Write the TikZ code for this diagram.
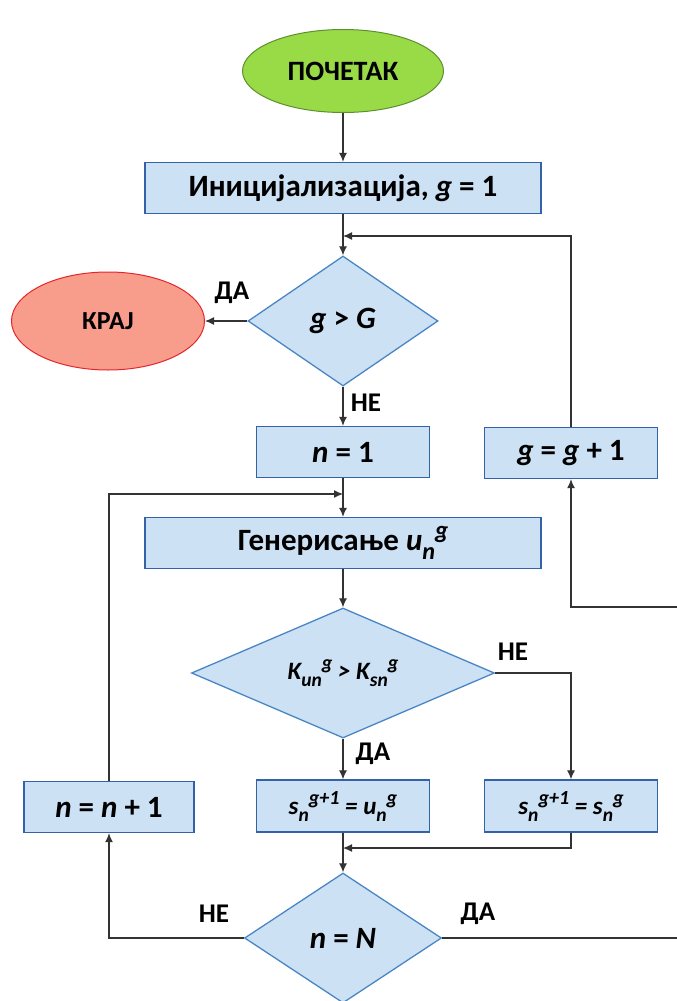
\documentclass[tikz,border=0pt]{standalone}
\usepackage{fontspec}
\setmainfont{Carlito}
\usetikzlibrary{arrows.meta,shapes.geometric}
\definecolor{startfill}{HTML}{99DB47}
\definecolor{startline}{HTML}{5E8F2E}
\definecolor{stopfill}{HTML}{F89C8C}
\definecolor{stopline}{HTML}{E5262B}
\definecolor{boxfill}{HTML}{CCE1F4}
\definecolor{boxline}{HTML}{3462A8}
\definecolor{testline}{HTML}{4A86C5}
\definecolor{wire}{HTML}{333333}
% indices et exposants un peu plus grands que \textsubscript
\newcommand{\lo}[1]{\raisebox{-0.28em}{\scalebox{0.78}{#1}}}
\newcommand{\hi}[1]{\raisebox{0.4em}{\scalebox{0.8}{#1}}}
\tikzset{
  fc_node/.style = {align=center, inner sep=0pt, text centered,
    font=\bfseries\fontsize{31}{36}\selectfont},
  fc_start/.style = {fc_node, ellipse, draw=startline, fill=startfill,
    line width=1pt, minimum width=201pt, minimum height=83pt,
    font=\bfseries\fontsize{28}{32}\selectfont},% organigramme, debut
  fc_stop/.style = {fc_node, ellipse, draw=stopline, fill=stopfill,
    line width=1pt, minimum width=193pt, minimum height=98pt,
    font=\bfseries\fontsize{26}{30}\selectfont},% organigramme, fin
  fc_box/.style = {fc_node, rectangle, draw=boxline, fill=boxfill,
    line width=1.3pt, minimum width=173pt, minimum height=51pt},% bloc
  fc_test/.style = {fc_node, diamond, draw=testline, fill=boxfill,
    line width=1.3pt, minimum height=130pt},% condition
  fc_label/.style = {inner sep=0pt, font=\bfseries\fontsize{27}{30}\selectfont}% oui / non
}

\begin{document}
\begin{tikzpicture}[x=1pt, y=-1pt, line width=1.2pt, draw=wire,
  >={Latex[length=9pt,width=8pt]}]
\clip (0,0) rectangle (677,1001);
% les blocs
\node [fc_start] (start) at (343,71) {ПОЧЕТАК};
\node [fc_box, minimum width=396pt] (init) at (343,188)
  {Иницијализација, \textit{g} = 1};
\node [fc_test, minimum width=190pt, aspect=1.46] (gtest) at (343,321)
  {\textit{g} > \textit{G}};
\node [fc_stop] (stop) at (108,321) {КРАЈ};
\node [fc_box] (n1) at (343,452) {\textit{n} = 1};
\node [fc_box] (ginc) at (571,453) {\textit{g} = \textit{g} + 1};
\node [fc_box, minimum width=396pt] (gen) at (343,543)
  {Генерисање \textit{u\lo{n}\hi{g}}};
\node [fc_test, minimum width=303pt, aspect=2.33,
  font=\bfseries\fontsize{25}{30}\selectfont] (ktest) at (343,673)
  {\textit{K\lo{un}\hi{g} > K\lo{sn}\hi{g}}};
\node [fc_box, minimum width=170pt] (ninc) at (109,807)
  {\textit{n} = \textit{n} + 1};
\node [fc_box, minimum height=52pt, font=\bfseries\fontsize{25}{30}\selectfont]
  (su) at (343,806) {\textit{s\lo{n}\hi{g+1} = u\lo{n}\hi{g}}};
\node [fc_box, minimum height=52pt, font=\bfseries\fontsize{25}{30}\selectfont]
  (ss) at (571,806) {\textit{s\lo{n}\hi{g+1} = s\lo{n}\hi{g}}};
\node [fc_test, minimum width=197pt, aspect=1.5] (ntest) at (343,938)
  {\textit{n} = \textit{N}};
% les etiquettes
\node [fc_label] (yes1) at (232,293) {ДА};
\node [fc_label] (no1) at (366,403) {НЕ};
\node [fc_label] (no2) at (513,652) {НЕ};
\node [fc_label] (yes2) at (373,754) {ДА};
\node [fc_label] (no3) at (214,914) {НЕ};
\node [fc_label] (yes3) at (478,914) {ДА};
% les points de jonction
\coordinate (j1) at (343,236);
\coordinate (j2) at (343,494);
\coordinate (j3) at (343,848);
\coordinate (e1) at (700,938);
\coordinate (e2) at (700,607);
% les fleches
\draw [->] (start) -- (init);
\draw [->] (init) -- (gtest);
\draw [->] (gtest) -- (stop);
\draw [->] (gtest) -- (n1);
\draw [->] (ginc) |- (j1);
\draw [->] (n1) -- (gen);
\draw [->] (ninc) |- (j2);
\draw [->] (gen) -- (ktest);
\draw [->] (ktest) -- (su);
\draw [->] (ktest.east) -| (ss);
\draw [->] (su) -- (ntest);
\draw [->] (ss) |- (j3);
\draw [->] (ntest.west) -| (ninc);
\draw [->] (ntest.east) -- (e1) -- (e2) -| (ginc);
\end{tikzpicture}
\end{document}
